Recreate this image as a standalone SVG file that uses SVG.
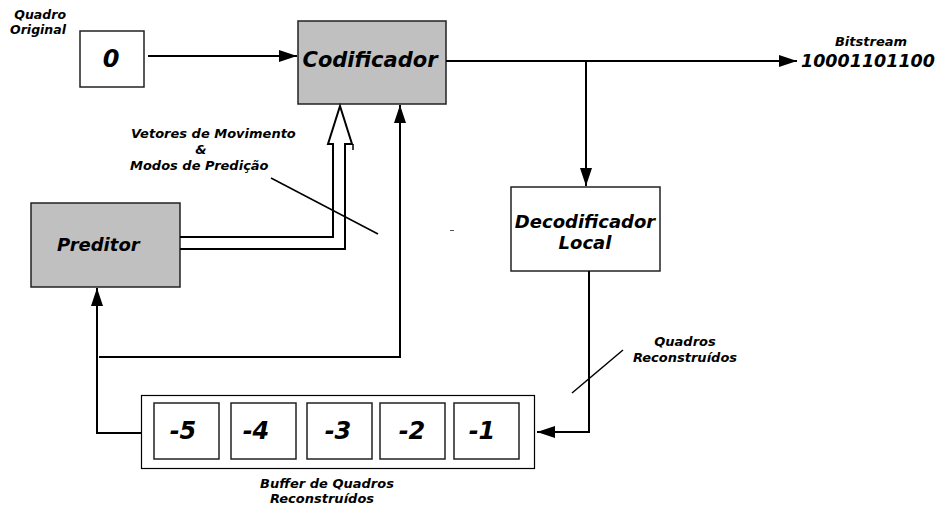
<svg xmlns="http://www.w3.org/2000/svg" width="940" height="511" viewBox="0 0 940 511">
<defs>
<style>
text{font-family:"DejaVu Sans","Liberation Sans",sans-serif;font-weight:bold;font-style:italic;fill:#000}
.box{fill:#fff;stroke:#222;stroke-width:1.5}
.gray{fill:#c0c0c0;stroke:#222;stroke-width:1.5}
.line{fill:none;stroke:#000;stroke-width:2}
.thin{fill:none;stroke:#000;stroke-width:1.5}
.sm{font-size:13px}
.md{font-size:18px}
.big{font-size:24px}
</style>
<marker id="ah" viewBox="0 0 18 12" markerWidth="18" markerHeight="12" refX="18" refY="6" orient="auto" markerUnits="userSpaceOnUse">
<path d="M0,0 L18,6 L0,12 z" fill="#000"/>
</marker>
</defs>
<rect width="940" height="511" fill="#fff"/>

<g id="labels">
<text class="sm" x="66" y="19" text-anchor="end" style="font-size:12.5px">Quadro</text>
<text class="sm" x="66" y="34" text-anchor="end" style="font-size:12.5px">Original</text>
<text class="sm" x="871" y="46" text-anchor="middle">Bitstream</text>
<text x="868" y="67" text-anchor="middle" style="font-size:17.5px">10001101100</text>
<text class="sm" x="131" y="138">Vetores de Movimento</text>
<text class="sm" x="201" y="154" text-anchor="middle">&amp;</text>
<text class="sm" x="130" y="170">Modos de Predição</text>
<text class="sm" x="685" y="346" text-anchor="middle">Quadros</text>
<text class="sm" x="685" y="362" text-anchor="middle">Reconstruídos</text>
<text class="sm" x="327" y="488" text-anchor="middle">Buffer de Quadros</text>
<text class="sm" x="322" y="503" text-anchor="middle">Reconstruídos</text>
</g>

<g id="quadro0">
<rect class="box" x="80" y="31" width="64" height="56"/>
<text class="big" x="111" y="67" text-anchor="middle">0</text>
</g>

<g id="codificador">
<rect class="gray" x="298" y="21" width="148" height="83"/>
<text x="370" y="67" text-anchor="middle" style="font-size:21px">Codificador</text>
</g>

<g id="preditor">
<rect class="gray" x="31" y="203" width="149" height="84"/>
<text class="md" x="57" y="251">Preditor</text>
</g>

<g id="decodificador">
<rect class="box" x="511" y="187" width="149" height="84"/>
<text class="md" x="585" y="228" text-anchor="middle">Decodificador</text>
<text class="md" x="585" y="249" text-anchor="middle">Local</text>
</g>

<g id="buffer">
<rect x="141.5" y="395.5" width="393" height="73" fill="#fff" stroke="#000" stroke-width="1.2"/>
<rect class="box" x="154" y="403" width="65" height="56"/>
<rect class="box" x="231" y="403" width="65" height="56"/>
<rect class="box" x="307" y="403" width="65" height="56"/>
<rect class="box" x="380" y="403" width="65" height="56"/>
<rect class="box" x="454" y="403" width="65" height="56"/>
<text class="big" x="183" y="439" text-anchor="middle">-5</text>
<text class="big" x="256" y="439" text-anchor="middle">-4</text>
<text class="big" x="338" y="439" text-anchor="middle">-3</text>
<text class="big" x="412" y="439" text-anchor="middle">-2</text>
<text class="big" x="482" y="439" text-anchor="middle">-1</text>
</g>

<g id="connectors">
<line class="line" x1="148" y1="56" x2="297" y2="56" marker-end="url(#ah)"/>
<line class="line" x1="446" y1="61" x2="797" y2="61" marker-end="url(#ah)"/>
<line class="line" x1="586" y1="61" x2="586" y2="186" marker-end="url(#ah)"/>
<polyline class="line" points="589,271 589,432 537,432" marker-end="url(#ah)"/>
<polyline class="line" points="141,433 97,433 97,288" marker-end="url(#ah)"/>
<polyline class="line" points="99,357 400,357 400,105" marker-end="url(#ah)"/>
<polyline class="line" points="180,237 333,237 333,144 328,144 340,106 352,144 345,144 345,249 180,249"/>
<line class="thin" x1="353" y1="144" x2="353" y2="150"/>
<line class="thin" x1="271" y1="178" x2="378" y2="234"/>
<line class="thin" x1="572" y1="393" x2="623" y2="350"/>
<line x1="450" y1="230.5" x2="454" y2="230.5" stroke="#555" stroke-width="1"/>
</g>
</svg>
